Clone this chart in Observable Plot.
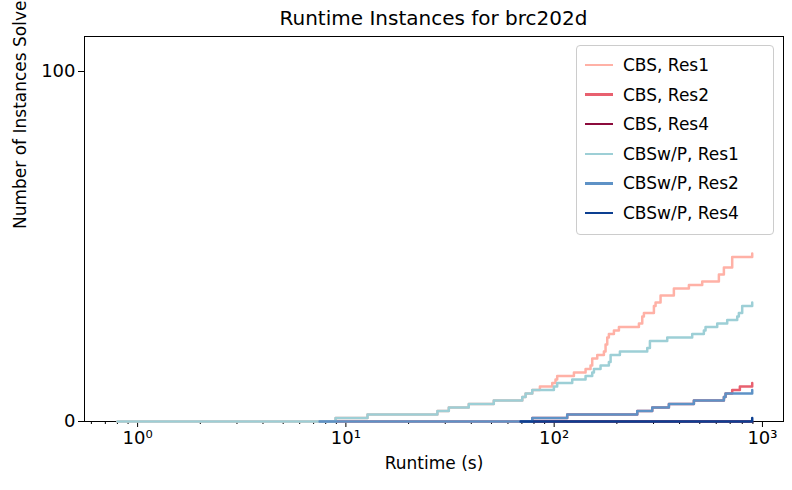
<!DOCTYPE html>
<html><head><meta charset="utf-8">
<script src="https://cdn.jsdelivr.net/npm/d3@7"></script>
<script src="https://cdn.jsdelivr.net/npm/@observablehq/plot@0.6"></script>
<style>
body{margin:0;font-family:"DejaVu Sans",sans-serif;background:#fff}
#wrap{position:relative;width:792px;height:490px}
#title{position:absolute;top:6px;left:84px;width:699px;text-align:center;font-size:20px}
#legend{position:absolute;left:576px;top:45px;width:196px;height:188px;border:1px solid #ccc;border-radius:4px;background:rgba(255,255,255,0.85);font-size:17px}
.li{position:absolute;left:8px;height:20px;display:flex;align-items:center}
.sw{width:28px;height:2.5px;margin-right:10px}
svg{overflow:visible}
</style></head><body>
<div id="wrap"><div id="title">Runtime Instances for brc202d</div><div id="legend"></div></div>
<script>
const names = ["CBS, Res1","CBS, Res2","CBS, Res4","CBSw/P, Res1","CBSw/P, Res2","CBSw/P, Res4"];
const colors = ["#ffb1a6","#e8606f","#8c0b3c","#9dcfd6","#5e92c6","#0c3f91"];
const cbsRes1 = [[0.80,0],[8.92,1],[12.7,2],[27.5,3],[31.2,4],[38.9,5],[51.3,6],[70.3,7],[72.9,8],[78.5,9],[85.4,10],[97.9,11],[101.5,12],[103.4,13],[124.4,14],[141.5,15],[149.5,16],[152.3,18],[161,19],[173.3,20],[176.5,22],[179.8,24],[183.1,25],[193.6,26],[204.6,27],[255.2,28],[264.8,30],[269.7,31],[301.2,33],[306.8,34],[324.2,36],[375.6,38],[443.5,39],[513.8,40],[617.8,42],[652.9,44],[715.8,47],[893,48]];
const cbsRes2 = [[7.48,0],[78.5,1],[115.5,2],[250.5,3],[295.7,4],[355.5,5],[468.6,6],[652.9,7],[665,8],[715.8,9],[779,10],[893,11]];
const cbsRes4 = [[69,0],[893,0]];
const wpRes1 = [[0.80,0],[8.92,1],[12.7,2],[27.5,3],[31.2,4],[38.9,5],[51.3,6],[70.3,7],[72.9,8],[78.5,9],[99.7,10],[103.4,11],[122.1,12],[141.5,13],[152.3,14],[155.2,15],[167,16],[183.1,17],[186.6,19],[206.8,20],[279.8,21],[288.2,23],[349,24],[460,25],[523.3,26],[533,27],[606.5,28],[677.3,29],[756.6,30],[770.4,31],[799.4,33],[893,34]];
const wpRes2 = [[7.48,0],[78.5,1],[115.5,2],[250.5,3],[295.7,4],[355.5,5],[468.6,6],[652.9,7],[665,8],[893,9]];
const wpRes4 = [[69,0],[893,1]];
const series = [cbsRes1,cbsRes2,cbsRes4,wpRes1,wpRes2,wpRes4];
const majorX = [1,10,100,1000];
const majorLabels = ["10⁰","10¹","10²","10³"];
const yTicks = [0,100];

const rows = series.flatMap((s,i)=>s.map(([t,c])=>({t,c,name:names[i]})));
const minor = [];
for (const d of [0.1,1,10,100]) for (let k=2;k<10;k++){const v=k*d; if(v>0.56&&v<1260) minor.push(v);}
const chart = Plot.plot({
  width:792,height:490,marginLeft:84,marginRight:9,marginTop:36,marginBottom:69,
  style:{fontSize:"15px",fontFamily:"DejaVu Sans",overflow:"visible"},
  x:{type:"log",domain:[0.556,1262]},
  y:{domain:[0,110]},
  color:{domain:names,range:colors},
  marks:[
    Plot.axisX({ticks:minor,tickSize:3,tickFormat:()=>"",label:null}),
    Plot.axisX({ticks:majorX,tickSize:6,tickFormat:(d)=>majorLabels[majorX.indexOf(d)],label:null,fontSize:18,tickPadding:4}),
    Plot.axisY({ticks:yTicks,tickSize:6,label:null,fontSize:18}),
    Plot.frame({stroke:"#000"}),
    Plot.line(rows,{x:"t",y:"c",z:"name",stroke:"name",curve:"step-after",strokeWidth:2.5}),
    Plot.text(["Runtime (s)"],{frameAnchor:"bottom",dy:47,fontSize:17}),
    Plot.text(["Number of Instances Solved"],{frameAnchor:"left",dx:-64,rotate:-90,fontSize:17})
  ]
});
document.getElementById("wrap").prepend(chart);
chart.style.position="absolute";chart.style.top="0";chart.style.left="0";
const lg=document.getElementById("legend");
names.forEach((n,i)=>{const d=document.createElement("div");d.className="li";d.style.top=(9+i*29.6)+"px";
d.innerHTML=`<div class="sw" style="background:${colors[i]}"></div><span>${n}</span>`;lg.appendChild(d);});
</script></body></html>
